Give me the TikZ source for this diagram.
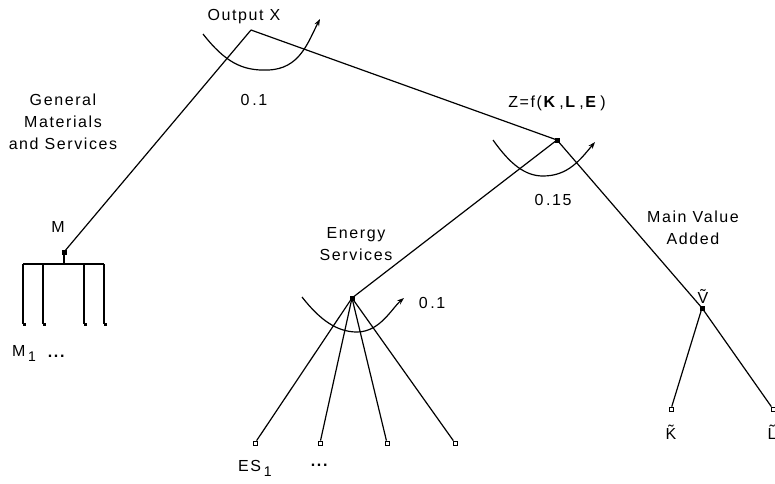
\documentclass[tikz,border=0pt]{standalone}
\usepackage{fontspec}
\setmainfont{Liberation Sans}[LetterSpace=10]
\usetikzlibrary{arrows.meta}
\newcommand{\labfont}{\fontsize{16}{22}\selectfont}
\newcommand{\subone}{\,\raisebox{-5pt}{\fontsize{14}{14}\selectfont 1}}
\newcommand{\bigdots}{\textbf{...}}
\tikzset{
  lab/.style={font=\labfont, inner sep=0pt, align=center},
  dotnode/.style={draw, fill, minimum size=4pt, inner sep=0pt},
  leaf/.style={draw, fill=white, minimum size=4pt, inner sep=0pt, line width=0.8pt},
  edge/.style={line width=1.2pt},
  elast/.style={line width=1.2pt, -{Stealth[length=7pt,width=5pt]}},
  tick/.style={fill, minimum size=3pt, inner sep=0pt}
}
\begin{document}
\begin{tikzpicture}[x=1pt,y=-1pt]
\useasboundingbox (0,0) rectangle (775,483);
% structural nodes
\coordinate (X) at (251,30);
\node[dotnode] (Z) at (557,140) {};
\node[dotnode] (M) at (64,252) {};
\node[dotnode] (E) at (352,298) {};
\node[dotnode] (V) at (702,308) {};
% leaves
\node[leaf] (es1) at (255,443) {};
\node[leaf] (es2) at (320,443) {};
\node[leaf] (es3) at (387,443) {};
\node[leaf] (es4) at (455,443) {};
\node[leaf] (K) at (671,409) {};
\node[leaf] (L) at (773,409) {};
% M bar
\coordinate (Mb) at (64,264);
\coordinate (b1) at (23,264);
\coordinate (b4) at (104,264);
\coordinate (t1) at (43,264);
\coordinate (t2) at (84,264);
\node[tick] (m1) at (24,324) {};
\node[tick] (m2) at (44,324) {};
\node[tick] (m3) at (85,324) {};
\node[tick] (m4) at (105,324) {};
% edges
\draw[edge] (X) -- (M.center);
\draw[edge] (X) -- (Z.center);
\draw[edge] (Z.center) -- (E.center);
\draw[edge] (Z.center) -- (V.center);
\draw[edge] (E.center) -- (es1);
\draw[edge] (E.center) -- (es2);
\draw[edge] (E.center) -- (es3);
\draw[edge] (E.center) -- (es4);
\draw[edge] (V.center) -- (K);
\draw[edge] (V.center) -- (L);
\draw[edge] (M.center) -- (Mb);
\draw[edge] (b1) -- (b4);
\draw[edge] (b1) -- (b1 |- m1.center);
\draw[edge] (t1) -- (t1 |- m2.center);
\draw[edge] (t2) -- (t2 |- m3.center);
\draw[edge] (b4) -- (b4 |- m4.center);
% elasticity arcs
\coordinate (a1s) at (203,34);
\coordinate (a1m) at (268,70);
\coordinate (a1e) at (320,19);
\draw[elast] (a1s) .. controls (225,62) and (242,71) .. (a1m) .. controls (300,69) and (308,42) .. (a1e);
\coordinate (a2s) at (493,140);
\coordinate (a2m) at (543,176);
\coordinate (a2e) at (595,142);
\draw[elast] (a2s) .. controls (510,164) and (525,176) .. (a2m) .. controls (568,176) and (580,160) .. (a2e);
\coordinate (a3s) at (302,297);
\coordinate (a3m) at (357,332);
\coordinate (a3e) at (404,298);
\draw[elast] (a3s) .. controls (320,320) and (337,332) .. (a3m) .. controls (380,332) and (392,308) .. (a3e);
% labels
\node[lab] (tOut) at (244,17) {Output X};
\node[lab] (tE1) at (254,100) {0\,.1};
\node[lab] (tZ) at (557,103) {Z=f(\textbf{K}\,,\textbf{L}\,,\textbf{E}\,)};
\node[lab] (tE2) at (553,200) {0\,.15};
\node[lab] (tGen) at (63,122) {General\\Materials\\and Services};
\node[lab] (tEn) at (356,244) {Energy\\Services};
\node[lab] (tE3) at (432,303) {0\,.1};
\node[lab] (tMV) at (693,228) {Main Value\\Added};
\node[lab] (tM) at (58,227) {M};
\node[lab] (tV) at (703,296) {\~{V}};
\node[lab] (tK) at (671,432) {\~{K}};
\node[lab] (tL) at (772,432) {\~{L}};
\node[lab, anchor=west] (tM1) at (12,353) {M\subone};
\node[lab, anchor=base] (tMd) at (57,357) {\bigdots};
\node[lab, anchor=west] (tES) at (238,468) {ES\subone};
\node[lab, anchor=base] (tESd) at (320,466) {\bigdots};
\end{tikzpicture}
\end{document}
